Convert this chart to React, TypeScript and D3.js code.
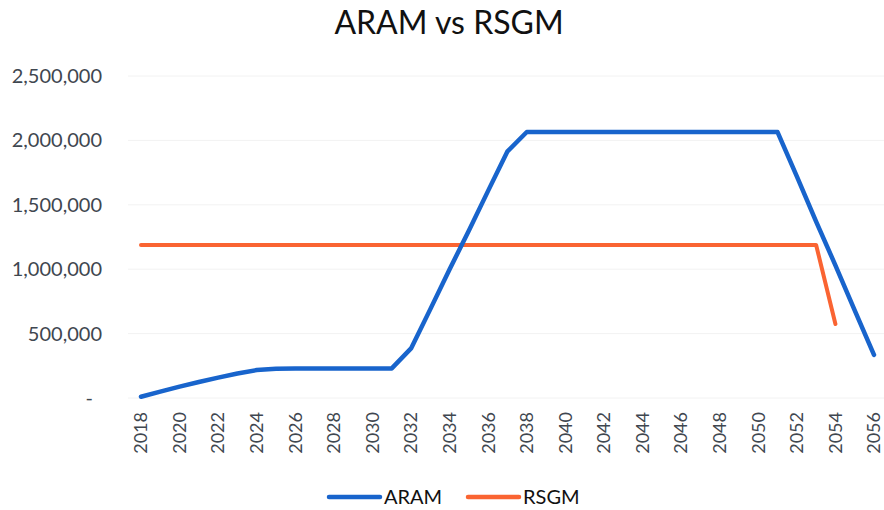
import { useRef, useEffect } from 'react';
import * as d3 from 'd3';

const YEARS = d3.range(2018, 2057);
const ARAM = [
  10000, 50000, 88000, 124000, 158000, 190000, 217000, 228000, 230000, 230000,
  230000, 230000, 230000, 230000, 385000, 690000, 1000000, 1300000, 1610000, 1915000,
  2065000, 2065000, 2065000, 2065000, 2065000, 2065000, 2065000, 2065000, 2065000, 2065000,
  2065000, 2065000, 2065000, 2065000, 1720000, 1370000, 1030000, 680000, 335000,
];
const RSGM: (number | null)[] = [
  ...YEARS.filter(y => y <= 2053).map(() => 1188000),
  575000, null, null,
];
const Y_TICKS = [0, 500000, 1000000, 1500000, 2000000, 2500000];
const X_TICKS = YEARS.filter(y => y % 2 === 0);

const W = 884;
const H = 510;
const FONT = 'Lato, "Open Sans", sans-serif';
const BLUE = '#1864cc';
const ORANGE = '#fa6432';

export default function App() {
  const svgRef = useRef<SVGSVGElement>(null);

  useEffect(() => {
    if (!svgRef.current) return;
    const svg = d3.select(svgRef.current);
    svg.selectAll('*').remove();

    const x = d3.scaleLinear().domain([2018, 2056]).range([141, 874]);
    const y = d3.scaleLinear().domain([0, 2500000]).range([398, 76]);

    // gridlines
    svg.append('g')
      .selectAll('line')
      .data(Y_TICKS)
      .join('line')
      .attr('x1', 128)
      .attr('x2', 884)
      .attr('y1', d => y(d))
      .attr('y2', d => y(d))
      .attr('stroke', '#f2f2f2')
      .attr('stroke-width', 1);

    // y labels
    const fmt = d3.format(',');
    svg.append('g')
      .selectAll('text')
      .data(Y_TICKS)
      .join('text')
      .attr('x', d => (d === 0 ? 93 : 102))
      .attr('y', d => y(d))
      .attr('dy', '0.35em')
      .attr('text-anchor', 'end')
      .attr('font-family', FONT)
      .attr('font-size', 20)
      .attr('fill', '#3f4750')
      .text(d => (d === 0 ? '-' : fmt(d)));

    // x labels
    svg.append('g')
      .selectAll('text')
      .data(X_TICKS)
      .join('text')
      .attr('transform', d => `translate(${x(d)},412) rotate(-90)`)
      .attr('dy', '0.35em')
      .attr('text-anchor', 'end')
      .attr('font-family', FONT)
      .attr('font-size', 18)
      .attr('fill', '#3f4750')
      .text(d => String(d));

    const line = d3.line<number | null>()
      .defined(d => d !== null)
      .x((_, i) => x(YEARS[i]))
      .y(d => y(d as number));

    svg.append('path')
      .datum(RSGM)
      .attr('d', line)
      .attr('fill', 'none')
      .attr('stroke', ORANGE)
      .attr('stroke-width', 4)
      .attr('stroke-linejoin', 'round')
      .attr('stroke-linecap', 'round');

    svg.append('path')
      .datum(ARAM)
      .attr('d', line)
      .attr('fill', 'none')
      .attr('stroke', BLUE)
      .attr('stroke-width', 4.5)
      .attr('stroke-linejoin', 'round')
      .attr('stroke-linecap', 'round');

    // title
    svg.append('text')
      .attr('x', 449)
      .attr('y', 34)
      .attr('text-anchor', 'middle')
      .attr('font-family', FONT)
      .attr('font-size', 32)
      .attr('fill', '#111')
      .text('ARAM vs RSGM');

    // legend
    const legend = [
      { name: 'ARAM', color: BLUE, x: 329 },
      { name: 'RSGM', color: ORANGE, x: 468 },
    ];
    const lg = svg.append('g');
    legend.forEach(l => {
      lg.append('line')
        .attr('x1', l.x)
        .attr('x2', l.x + 51)
        .attr('y1', 497)
        .attr('y2', 497)
        .attr('stroke', l.color)
        .attr('stroke-width', 4.5)
        .attr('stroke-linecap', 'round');
      lg.append('text')
        .attr('x', l.x + 55)
        .attr('y', 504)
        .attr('font-family', FONT)
        .attr('font-size', 20)
        .attr('fill', '#111')
        .text(l.name);
    });
  }, []);

  return (
    <svg
      ref={svgRef}
      width={W}
      height={H}
      style={{ position: 'absolute', left: 0, top: 0, background: '#fff' }}
    />
  );
}
